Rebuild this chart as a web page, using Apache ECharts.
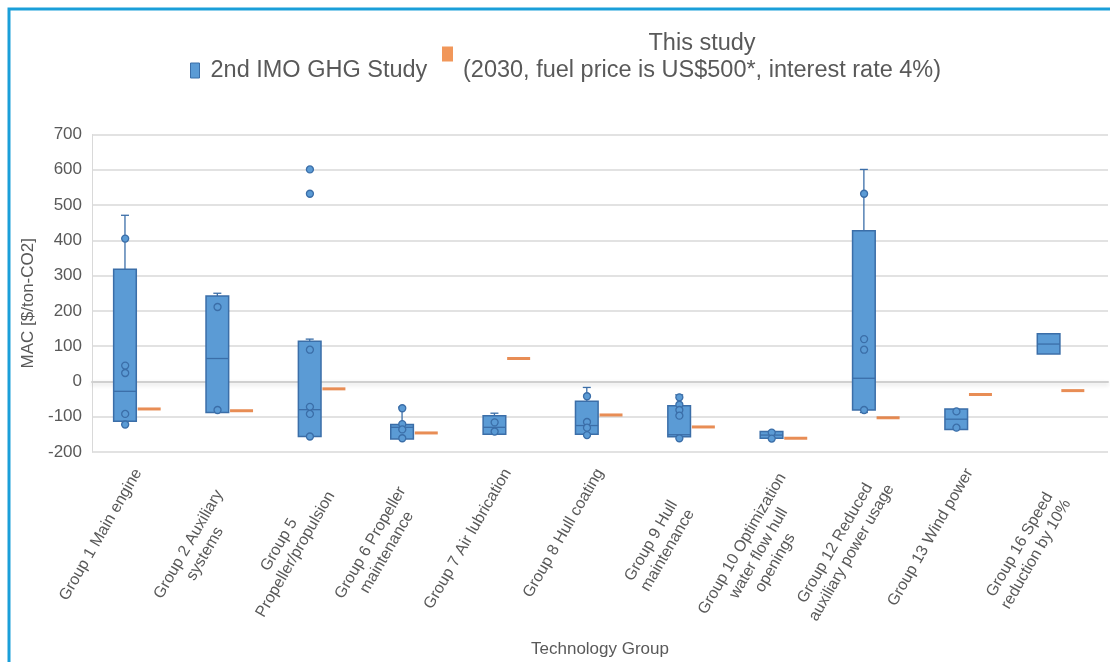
<!DOCTYPE html>
<html>
<head>
<meta charset="utf-8">
<script src="https://cdn.jsdelivr.net/npm/echarts@6/dist/echarts.min.js"></script>
<style>
html,body{margin:0;padding:0;background:#fff;}
#chart{width:1110px;height:662px;}
</style>
</head>
<body>
<div id="chart"></div>
<script>
// ---- data ----
var categories = [
  "Group 1 Main engine",
  "Group 2 Auxiliary\nsystems",
  "Group 5\nPropeller/propulsion",
  "Group 6 Propeller\nmaintenance",
  "Group 7 Air lubrication",
  "Group 8 Hull coating",
  "Group 9 Hull\nmaintenance",
  "Group 10 Optimization\nwater flow hull\nopenings",
  "Group 12 Reduced\nauxiliary power usage",
  "Group 13 Wind power",
  "Group 16 Speed\nreduction by 10%"
];
var imoMin    = [-122, -88, -156, -163, -150, -150, -157, -161, -88, -136, 78];
var imoQ1     = [-113, -88, -156, -163, -150, -150, -157, -161, -81, -136, 78];
var imoMedian = [-28,   65,  -80, -130, -130, -125, -151, -152,   9, -107, 106];
var imoQ3     = [318,  242,  114, -122,  -97,  -56,  -69, -142, 427,  -78, 135];
var imoMax    = [471,  250,  120,  -73,  -90,  -17,  -38, -142, 601,  -78, 135];
var imoPoints = [
  [405, 45, 24, -92, -122],
  [211, -81],
  [601, 532, 90, -72, -92, -156],
  [-76, -121, -136, -161],
  [-116, -142],
  [-42, -115, -131, -152],
  [-45, -66, -81, -97, -161],
  [-145, -162],
  [532, 120, 90, -81],
  [-85, -131],
  []
];
var thisStudy = [-78, -83, -21, -146, 65, -95, -129, -161, -103, -37, -26];
var yTicks = {min: -200, max: 700, interval: 100};

var seriesNames = ["2nd IMO GHG Study", "This study\n(2030, fuel price is US$500*, interest rate 4%)"];

// ---- styling ----
var BLUE = '#5B9BD5', BLUE_DARK = '#3B6EA8', ORANGE = '#ED7D31', ORANGE_LINE = '#E2712A', TXT = '#595959';
var BOX_OFF = -0.143, BOX_HALF = 0.1225;
// screen shift (dx, dy) of each rotated category label, to mimic the source layout
var labelShift = [[0,0],[-3,26],[0,18],[-5,23],[0,0],[0,0],[-10,36],[14,14],[5,11],[0,0],[-3,26]];
var ROT = 60 * Math.PI / 180;

function labelPadding(s) {
  var su = Math.cos(ROT) * s[0] - Math.sin(ROT) * s[1];
  var sv = -Math.sin(ROT) * s[0] - Math.cos(ROT) * s[1];
  var pr = su < 0 ? -su : 0;
  var pt = sv < 0 ? -2 * sv : 0;
  var pb = sv > 0 ? 2 * sv : 0;
  return [pt, pr, pb, 0];
}

// ---- build ----
var boxData = categories.map(function (c, i) {
  return [i, imoMin[i], imoQ1[i], imoMedian[i], imoQ3[i], imoMax[i]];
});
var pointData = [];
imoPoints.forEach(function (arr, i) {
  arr.forEach(function (v) { pointData.push([i, v]); });
});
var studyData = thisStudy.map(function (v, i) { return [i, v]; });
var axisCats = categories.map(function (c, i) {
  return {value: c, textStyle: {padding: labelPadding(labelShift[i])}};
});

var chart = echarts.init(document.getElementById('chart'));
chart.setOption({
  animation: false,
  backgroundColor: '#fff',
  textStyle: {fontFamily: 'Liberation Sans, Arial, sans-serif'},
  graphic: [{
    type: 'rect', silent: true, z: 100,
    shape: {x: 9, y: 9, width: 1300, height: 1000},
    style: {fill: null, stroke: '#1A9FD9', lineWidth: 3}
  }],
  legend: [{
    data: [seriesNames[0]],
    left: 190, top: 57, padding: 0,
    icon: 'rect', itemWidth: 9, itemHeight: 15,
    itemStyle: {borderColor: BLUE_DARK, borderWidth: 1},
    textStyle: {color: TXT, fontSize: 23.5, lineHeight: 27, padding: [0, 0, 0, 6]}
  }, {
    data: [{name: seriesNames[1], itemStyle: {color: ORANGE}}],
    left: 442, top: 24, padding: 0,
    icon: 'rect', itemWidth: 11, itemHeight: 15,
    formatter: function (n) {
      return n.split('\n').map(function (s) { return '{c|' + s + '}'; }).join('\n');
    },
    textStyle: {color: TXT, fontSize: 23.5, lineHeight: 27, padding: [6, 0, 0, 5],
      rich: {c: {align: 'center', color: TXT, fontSize: 23.5, lineHeight: 27}}}
  }],
  grid: {left: 92, right: 2, top: 134.5, bottom: 210},
  xAxis: {
    type: 'category',
    data: axisCats,
    name: 'Technology Group',
    nameLocation: 'middle',
    nameGap: 188,
    nameTextStyle: {color: TXT, fontSize: 17},
    axisTick: {show: false},
    axisLine: {lineStyle: {color: '#d0d0d0', width: 2, shadowColor: 'rgba(0,0,0,0.15)', shadowBlur: 4, shadowOffsetY: 2}},
    axisLabel: {
      interval: 0, rotate: 60, margin: 18, color: TXT, fontSize: 16, lineHeight: 19,
      formatter: function (v) {
        return v.split('\n').map(function (s) { return '{c|' + s + '}'; }).join('\n');
      },
      rich: {c: {align: 'center', color: TXT, fontSize: 16, lineHeight: 19}}
    },
    splitLine: {show: false}
  },
  yAxis: {
    type: 'value',
    min: yTicks.min, max: yTicks.max, interval: yTicks.interval,
    name: 'MAC [$/ton-CO2]',
    nameLocation: 'middle',
    nameGap: 41,
    nameTextStyle: {color: TXT, fontSize: 17, padding: [0, 20, 0, 0]},
    axisLine: {show: true, lineStyle: {color: '#d9d9d9'}},
    axisTick: {show: false},
    axisLabel: {color: TXT, fontSize: 17, margin: 10},
    splitLine: {lineStyle: {color: '#d9d9d9', width: 1.5}}
  },
  series: [{
    name: seriesNames[0],
    type: 'custom',
    itemStyle: {color: BLUE},
    encode: {x: 0, y: [1, 2, 3, 4, 5]},
    data: boxData,
    z: 2,
    renderItem: function (params, api) {
      var cat = api.value(0);
      var bw = api.size([1, 0])[0];
      var xc = api.coord([cat, 0])[0] + BOX_OFF * bw;
      var hw = BOX_HALF * bw;
      var yMin = api.coord([cat, api.value(1)])[1];
      var yQ1 = api.coord([cat, api.value(2)])[1];
      var yMed = api.coord([cat, api.value(3)])[1];
      var yQ3 = api.coord([cat, api.value(4)])[1];
      var yMax = api.coord([cat, api.value(5)])[1];
      var ls = {stroke: BLUE_DARK, lineWidth: 1.3};
      var children = [];
      if (yMax < yQ3 - 0.5) {
        children.push({type: 'line', shape: {x1: xc, y1: yQ3, x2: xc, y2: yMax}, style: ls});
        children.push({type: 'line', shape: {x1: xc - 4, y1: yMax, x2: xc + 4, y2: yMax}, style: ls});
      }
      if (yMin > yQ1 + 0.5) {
        children.push({type: 'line', shape: {x1: xc, y1: yQ1, x2: xc, y2: yMin}, style: ls});
        children.push({type: 'line', shape: {x1: xc - 4, y1: yMin, x2: xc + 4, y2: yMin}, style: ls});
      }
      children.push({type: 'rect', shape: {x: xc - hw, y: yQ3, width: 2 * hw, height: yQ1 - yQ3},
        style: {fill: BLUE, stroke: BLUE_DARK, lineWidth: 1.5}});
      children.push({type: 'line', shape: {x1: xc - hw, y1: yMed, x2: xc + hw, y2: yMed}, style: ls});
      return {type: 'group', children: children};
    }
  }, {
    name: seriesNames[0],
    type: 'scatter',
    data: pointData,
    symbol: 'circle',
    symbolSize: 7,
    symbolOffset: [-13, 0],
    itemStyle: {color: BLUE, borderColor: BLUE_DARK, borderWidth: 1.3, opacity: 1},
    z: 3
  }, {
    name: seriesNames[1],
    type: 'scatter',
    data: studyData,
    symbol: 'rect',
    symbolSize: [23, 3],
    symbolOffset: [11, 0],
    itemStyle: {color: ORANGE_LINE},
    z: 3
  }]
});
</script>
</body>
</html>
